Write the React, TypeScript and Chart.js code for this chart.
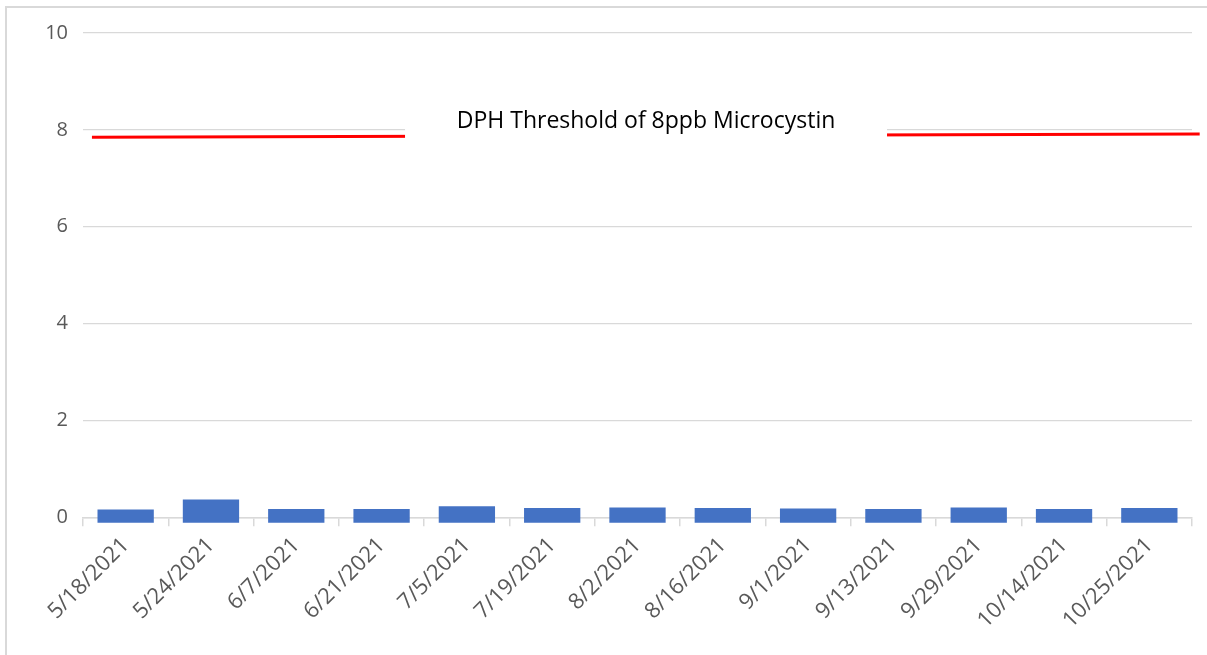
import React, { useEffect, useRef } from "react";
import { Chart, registerables } from "chart.js";

Chart.register(...registerables);

const categories = [
  "5/18/2021", "5/24/2021", "6/7/2021", "6/21/2021", "7/5/2021", "7/19/2021", "8/2/2021",
  "8/16/2021", "9/1/2021", "9/13/2021", "9/29/2021", "10/14/2021", "10/25/2021",
];
const microcystin = [0.16, 0.37, 0.17, 0.17, 0.23, 0.19, 0.2, 0.19, 0.18, 0.17, 0.2, 0.17, 0.19];
const barBase = -0.11;
// threshold line ends, in category-index units along x and ppb along y
const thresholdX = [-0.395, 12.59];
const thresholdY = [7.845, 7.915];
const thresholdLabel = "DPH Threshold of 8ppb Microcystin";
const yTicks = [0, 2, 4, 6, 8, 10];

const labelBoxPlugin = {
  id: "labelBox",
  afterDatasetsDraw(chart: any) {
    const xs = chart.scales.x;
    const ys = chart.scales.y;
    const ctx = chart.ctx;
    const l = xs.getPixelForValue(3.275);
    const r = xs.getPixelForValue(8.925);
    const t = ys.getPixelForValue(8.65);
    const b = ys.getPixelForValue(7.55);
    ctx.save();
    ctx.fillStyle = "#ffffff";
    ctx.fillRect(l, t, r - l, b - t);
    ctx.fillStyle = "#000000";
    ctx.font = '23px "Open Sans"';
    ctx.textAlign = "center";
    ctx.textBaseline = "middle";
    ctx.fillText(thresholdLabel, (l + r) / 2, ys.getPixelForValue(8.17));
    ctx.restore();
  },
};

export default function App() {
  const canvasRef = useRef<HTMLCanvasElement>(null);

  useEffect(() => {
    document.body.style.margin = "0";
    const canvas = canvasRef.current;
    if (!canvas) return;
    const chart = new Chart(canvas, {
      type: "bar",
      data: {
        labels: categories,
        datasets: [
          {
            type: "bar",
            data: microcystin,
            base: barBase,
            backgroundColor: "#4472c4",
            borderWidth: 0,
            barPercentage: 0.66,
            categoryPercentage: 1,
            clip: false,
          } as any,
          {
            type: "line",
            parsing: false,
            data: thresholdX.map((x, i) => ({ x, y: thresholdY[i] })),
            borderColor: "#ff0000",
            borderWidth: 3,
            pointRadius: 0,
            clip: false,
          } as any,
        ],
      },
      options: {
        animation: false,
        responsive: false,
        maintainAspectRatio: false,
        layout: { padding: { top: 33, right: 15, left: 0, bottom: 0 } },
        plugins: {
          legend: { display: false },
          tooltip: { enabled: false },
          title: { display: false },
        },
        scales: {
          x: {
            type: "category",
            offset: true,
            grid: {
              offset: true,
              drawOnChartArea: false,
              drawTicks: true,
              tickLength: 9,
              color: "#d9d9d9",
              lineWidth: 1.5,
            },
            border: { display: true, color: "#d9d9d9", width: 1.5 },
            ticks: {
              color: "#595959",
              font: { family: "Open Sans", size: 22 },
              maxRotation: 45,
              minRotation: 45,
              autoSkip: false,
              padding: 6,
            },
            afterFit: (s: any) => {
              s.height = 655 - 517.3;
            },
          },
          y: {
            type: "linear",
            min: 0,
            max: 10,
            afterBuildTicks: (s: any) => {
              s.ticks = yTicks.map((v) => ({ value: v }));
            },
            grid: { color: "#d9d9d9", lineWidth: 1.3, drawTicks: false },
            border: { display: false },
            ticks: {
              color: "#595959",
              font: { family: "Open Sans", size: 20 },
              padding: 15,
            },
            afterFit: (s: any) => {
              s.width = 83;
            },
          },
        },
      },
      plugins: [labelBoxPlugin],
    });
    return () => chart.destroy();
  }, []);

  return (
    <div style={{ position: "relative", width: 1207, height: 655, background: "#fff", overflow: "hidden" }}>
      <canvas ref={canvasRef} width={1207} height={655} style={{ display: "block" }} />
      <div
        style={{
          position: "absolute",
          left: 5,
          top: 6,
          width: 1202,
          height: 649,
          borderTop: "2px solid #d9d9d9",
          borderLeft: "2px solid #d9d9d9",
          boxSizing: "border-box",
          pointerEvents: "none",
        }}
      />
    </div>
  );
}
